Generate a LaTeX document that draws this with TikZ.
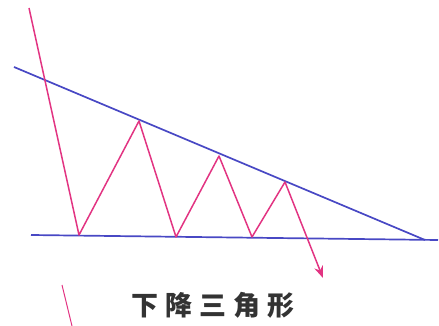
\documentclass[tikz,border=0pt]{standalone}
\usepackage{fontspec}
\newfontfamily\cjk{Noto Sans CJK SC}
\usetikzlibrary{arrows.meta}
\definecolor{trend}{RGB}{72,72,196}
\definecolor{price}{RGB}{226,52,130}
\tikzset{
  trendline/.style={draw=trend, line width=1.7pt},
  priceline/.style={draw=price, line width=1.5pt, line join=round},
  label/.style={font=\cjk\bfseries\fontsize{27}{27}\selectfont, text=black!80}
}
\begin{document}
\begin{tikzpicture}[x=1pt,y=-1pt]
\useasboundingbox (0,0) rectangle (439,326);
% resistance and support lines
\coordinate (u1) at (14,67);
\coordinate (u2) at (425,240);
\coordinate (b1) at (31,235);
\coordinate (b2) at (438,240);
\draw[trendline] (u1) -- (u2);
\draw[trendline] (b1) -- (b2);
% price path
\coordinate (p0) at (29,8);
\coordinate (p1) at (79,235);
\coordinate (p2) at (139,121);
\coordinate (p3) at (176,237);
\coordinate (p4) at (219,156);
\coordinate (p5) at (252,237);
\coordinate (p6) at (285,182);
\coordinate (p7) at (323,278);
\draw[priceline, -{Stealth[length=12pt,width=9pt]}] (p0) -- (p1) -- (p2) -- (p3) -- (p4) -- (p5) -- (p6) -- (p7);
% stray stroke
\coordinate (s1) at (62,285);
\coordinate (s2) at (72,326);
\draw[draw=price, line width=1pt] (s1) -- (s2);
\node[label] (t) at (213,305) {下\hspace{7pt}降\hspace{7pt}三\hspace{7pt}角\hspace{7pt}形};
\end{tikzpicture}
\end{document}
